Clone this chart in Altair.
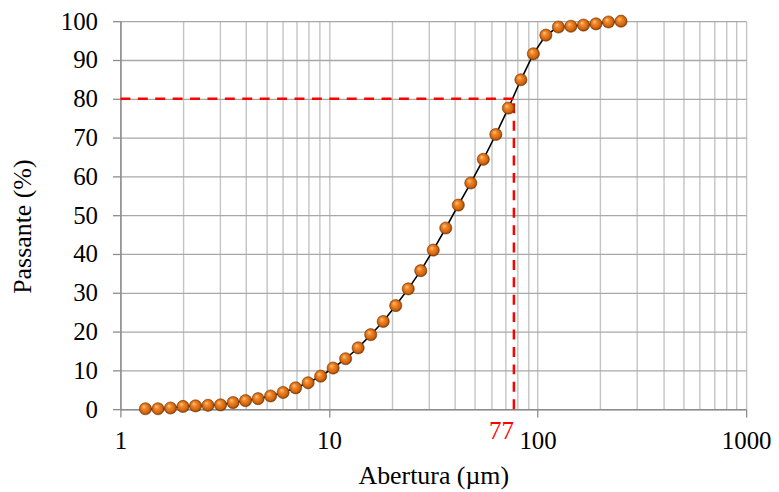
import altair as alt
import pandas as pd

# Particle size (µm) and cumulative passing (%)
abertura = [1.318, 1.514, 1.738, 1.995, 2.291, 2.630, 3.020, 3.467, 3.981, 4.571,
            5.248, 6.026, 6.918, 7.943, 9.120, 10.47, 12.02, 13.80, 15.85, 18.20,
            20.89, 23.99, 27.54, 31.62, 36.31, 41.69, 47.86, 54.95, 63.10, 72.44,
            83.18, 95.50, 109.6, 125.9, 144.5, 166.0, 190.5, 218.8, 251.2]
passante = [0.1, 0.1, 0.3, 0.7, 0.85, 1.0, 1.1, 1.7, 2.2, 2.7,
            3.4, 4.3, 5.5, 6.8, 8.5, 10.6, 13.0, 15.8, 19.2, 22.6,
            26.7, 31.0, 35.7, 41.0, 46.7, 52.6, 58.3, 64.4, 70.8, 77.6,
            84.9, 91.6, 96.4, 98.5, 98.7, 99.0, 99.3, 99.8, 100.0]

d80 = 77
p80 = 80
grid_x = [1, 2, 3, 4, 5, 6, 7, 8, 9, 10, 20, 30, 40, 50, 60, 70, 80, 90,
          100, 200, 300, 400, 500, 600, 700, 800, 900, 1000]
grid_y = [0, 10, 20, 30, 40, 50, 60, 70, 80, 90, 100]
label_x = "Abertura (µm)"
label_y = "Passante (%)"

df = pd.DataFrame({"x": abertura, "y": passante})

FONT = "Liberation Serif"
FS = 25
TFS = 26

xscale = alt.Scale(type="log", domain=[1, 1000], nice=False)
yscale = alt.Scale(domain=[0, 100], nice=False)

xaxis = alt.Axis(
    values=grid_x, format="d",
    labelExpr="indexof([1,10,100,1000], datum.value) >= 0 ? datum.label : ''",
    tickOpacity={"condition": {"test": "indexof([1,10,100,1000], datum.value) >= 0", "value": 1}, "value": 0},
    grid=True, gridColor="#c4c4c4", gridWidth=1.4,
    domainColor="#8c8c8c", domainWidth=1.5,
    tickColor="#8c8c8c", tickWidth=1.3, tickSize=8,
    labelFont=FONT, labelFontSize=FS, labelColor="#000000", labelPadding=12,
    labelFlush=False, labelOverlap=False,
    title=label_x, titleFont=FONT, titleFontSize=TFS, titleFontWeight="normal",
    titleColor="#000000", titleX=314.5, titleY=75, titleBaseline="alphabetic",
    titleAlign="center",
)
yaxis = alt.Axis(
    values=grid_y, tickCount=11,
    grid=True, gridColor="#a8a8a8", gridWidth=1.3,
    domainColor="#8c8c8c", domainWidth=1.5,
    tickColor="#8c8c8c", tickWidth=1.3, tickSize=8,
    labelFont=FONT, labelFontSize=FS, labelColor="#000000", labelPadding=15,
    labelFlush=False, labelOverlap=False,
    title=label_y, titleFont=FONT, titleFontSize=TFS, titleFontWeight="normal",
    titleColor="#000000", titleAngle=270, titleX=-90.5, titleY=206,
    titleBaseline="alphabetic", titleAlign="center",
)

base = alt.Chart(df)

line = base.mark_line(color="#000000", strokeWidth=1.6).encode(
    x=alt.X("x:Q", scale=xscale, axis=xaxis),
    y=alt.Y("y:Q", scale=yscale, axis=yaxis),
)

sphere = {
    "gradient": "radial",
    "x1": 0.35, "y1": 0.3, "r1": 0,
    "x2": 0.5, "y2": 0.5, "r2": 0.55,
    "stops": [
        {"offset": 0.0, "color": "#ffd2a0"},
        {"offset": 0.3, "color": "#f58a2a"},
        {"offset": 0.75, "color": "#d0620c"},
        {"offset": 1.0, "color": "#5a2800"},
    ],
}
points = base.mark_point(filled=True, fill=sphere, opacity=1, size=150,
                         stroke="#7a3a05", strokeWidth=0.6, shape="circle").encode(
    x=alt.X("x:Q", scale=xscale, axis=xaxis),
    y=alt.Y("y:Q", scale=yscale, axis=yaxis),
)

hl = pd.DataFrame({"x": [1], "x2": [d80], "y": [p80]})
hline = alt.Chart(hl).mark_rule(color="#ff0000", strokeWidth=2.5, strokeDash=[10, 7.5]).encode(
    x=alt.X("x:Q", scale=xscale, axis=xaxis), x2="x2:Q",
    y=alt.Y("y:Q", scale=yscale, axis=yaxis)
)
vl = pd.DataFrame({"x": [d80], "y": [0], "y2": [p80]})
vline = alt.Chart(vl).mark_rule(color="#ff0000", strokeWidth=2.5, strokeDash=[10, 7.5]).encode(
    x=alt.X("x:Q", scale=xscale, axis=xaxis),
    y=alt.Y("y:Q", scale=yscale, axis=yaxis), y2="y2:Q"
)
lab = pd.DataFrame({"x": [d80], "y": [0], "t": [str(d80)]})
label = alt.Chart(lab).mark_text(color="#ff0000", font=FONT, fontSize=FS, align="right",
                                 baseline="alphabetic", dx=0, dy=30).encode(
    x=alt.X("x:Q", scale=xscale, axis=xaxis),
    y=alt.Y("y:Q", scale=yscale, axis=yaxis), text="t:N"
)

chart = alt.layer(line, hline, vline, points, label).properties(
    width=629, height=390,
    autosize=alt.AutoSizeParams(type="none"),
    padding={"left": 113, "top": 12, "right": 25, "bottom": 82},
    background="#ffffff",
).configure_view(stroke=None)

chart.save("out.html", embed_options={"renderer": "svg", "actions": False})
